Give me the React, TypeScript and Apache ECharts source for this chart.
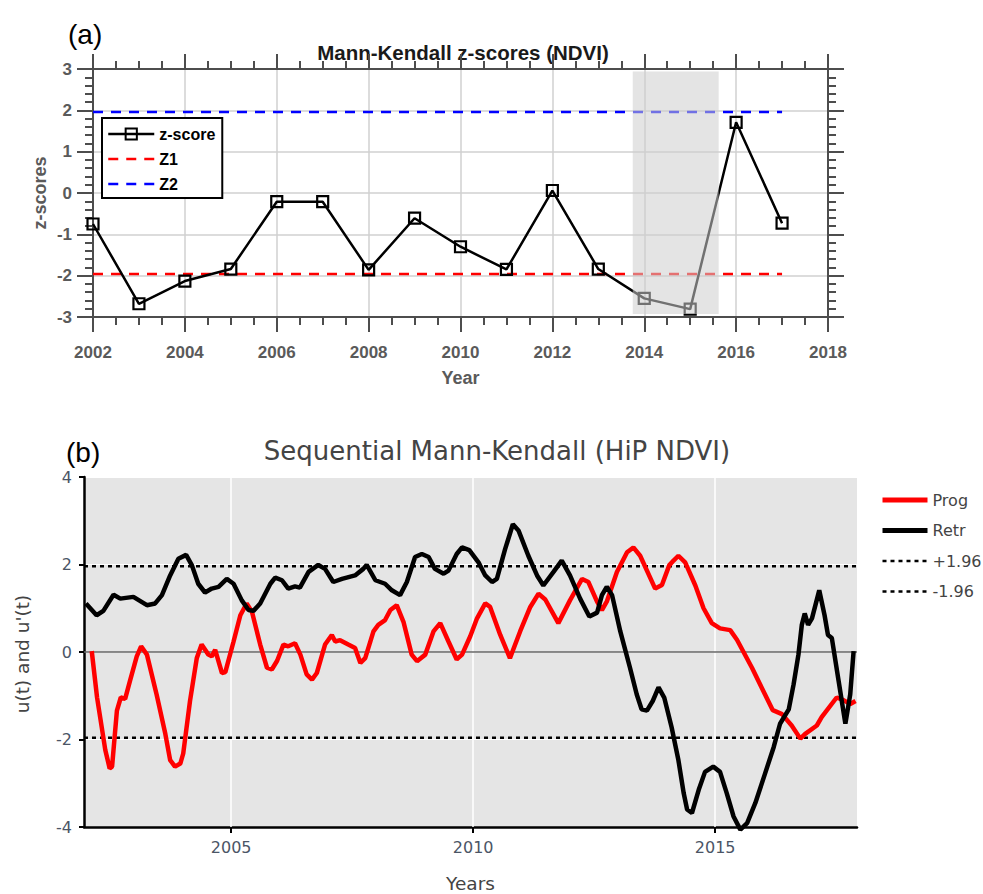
import React, { useEffect, useRef } from "react";
import * as echarts from "echarts";

// ---------- Panel (a): Mann-Kendall z-scores ----------
const years = [2002, 2003, 2004, 2005, 2006, 2007, 2008, 2009, 2010, 2011, 2012, 2013, 2014, 2015, 2016, 2017];
const zScores = [-0.75, -2.68, -2.13, -1.84, -0.21, -0.21, -1.86, -0.61, -1.3, -1.85, 0.06, -1.84, -2.55, -2.81, 1.71, -0.73];
const z1Value = -1.96;
const z2Value = 1.96;
const thresholdYearsA = [2002, 2017];
const shadeYears = [2013.75, 2015.62];
const shadeZ = [2.94, -2.93];
const xTicksA = { min: 2002, max: 2018, step: 2 };
const yTicksA = { min: -3, max: 3, step: 1 };

// ---------- Panel (b): Sequential Mann-Kendall ----------
const progT = [
  2002.12, 2002.23, 2002.4, 2002.49, 2002.54, 2002.64, 2002.72, 2002.81, 2002.91, 2003.05, 2003.14, 2003.26,
  2003.46, 2003.64, 2003.74, 2003.84, 2003.95, 2004.01, 2004.15, 2004.29, 2004.39, 2004.53, 2004.6, 2004.67,
  2004.81, 2004.88, 2005.05, 2005.19, 2005.32, 2005.43, 2005.6, 2005.74, 2005.84, 2005.95, 2006.08, 2006.18,
  2006.32, 2006.43, 2006.56, 2006.67, 2006.77, 2006.94, 2007.08, 2007.15, 2007.25, 2007.42, 2007.56, 2007.67,
  2007.77, 2007.94, 2008.04, 2008.18, 2008.29, 2008.42, 2008.56, 2008.73, 2008.84, 2009.01, 2009.18, 2009.32,
  2009.49, 2009.66, 2009.77, 2009.94, 2010.08, 2010.25, 2010.35, 2010.56, 2010.76, 2010.97, 2011.18, 2011.35,
  2011.49, 2011.76, 2012.0, 2012.25, 2012.38, 2012.56, 2012.66, 2012.76, 2012.97, 2013.18, 2013.31, 2013.45,
  2013.76, 2013.9, 2014.05, 2014.14, 2014.24, 2014.38, 2014.59, 2014.76, 2014.93, 2015.1, 2015.31, 2015.45,
  2015.76, 2016.03, 2016.19, 2016.38, 2016.58, 2016.76, 2016.86, 2017.1, 2017.2, 2017.51, 2017.65, 2017.79, 2017.9,
];
const progU = [
  0.02, -1.04, -2.24, -2.66, -2.62, -1.34, -1.04, -1.07, -0.66, -0.1, 0.13, -0.06,
  -0.97, -1.87, -2.47, -2.62, -2.55, -2.32, -1.12, -0.14, 0.17, -0.06, -0.1, 0.05,
  -0.48, -0.46, 0.24, 0.84, 1.11, 0.92, 0.17, -0.36, -0.4, -0.2, 0.17, 0.13,
  0.2, -0.06, -0.51, -0.63, -0.48, 0.17, 0.39, 0.24, 0.27, 0.17, 0.09, -0.25,
  -0.14, 0.47, 0.62, 0.73, 0.96, 1.07, 0.69, -0.06, -0.21, -0.06, 0.47, 0.66,
  0.24, -0.17, -0.06, 0.36, 0.77, 1.11, 1.03, 0.39, -0.14, 0.47, 1.03, 1.33,
  1.2, 0.66, 1.18, 1.67, 1.6, 1.15, 0.96, 1.15, 1.83, 2.28, 2.39, 2.2,
  1.45, 1.53, 1.98, 2.09, 2.2, 2.05, 1.52, 1.0, 0.66, 0.54, 0.5, 0.28,
  -0.36, -0.97, -1.33, -1.42, -1.68, -1.98, -1.87, -1.68, -1.49, -1.04, -1.1, -1.19, -1.12,
];
const retrT = [
  2002.0, 2002.22, 2002.36, 2002.57, 2002.71, 2002.98, 2003.26, 2003.43, 2003.57, 2003.74, 2003.91, 2004.07,
  2004.19, 2004.32, 2004.46, 2004.6, 2004.74, 2004.91, 2005.05, 2005.22, 2005.36, 2005.46, 2005.6, 2005.81,
  2005.91, 2006.05, 2006.18, 2006.32, 2006.42, 2006.6, 2006.8, 2006.94, 2007.11, 2007.29, 2007.56, 2007.73,
  2007.8, 2007.98, 2008.18, 2008.32, 2008.49, 2008.63, 2008.8, 2008.94, 2009.08, 2009.21, 2009.39, 2009.49,
  2009.66, 2009.77, 2009.92, 2010.11, 2010.25, 2010.39, 2010.49, 2010.66, 2010.82, 2010.94, 2011.14, 2011.32,
  2011.45, 2011.66, 2011.83, 2012.0, 2012.21, 2012.4, 2012.56, 2012.66, 2012.76, 2012.87, 2013.04, 2013.24,
  2013.38, 2013.48, 2013.59, 2013.71, 2013.83, 2013.95, 2014.1, 2014.24, 2014.35, 2014.42, 2014.52, 2014.66,
  2014.79, 2014.96, 2015.1, 2015.24, 2015.38, 2015.52, 2015.66, 2015.83, 2016.03, 2016.21, 2016.34, 2016.52,
  2016.62, 2016.72, 2016.79, 2016.85, 2016.92, 2017.0, 2017.15, 2017.26, 2017.33, 2017.41, 2017.55, 2017.69,
  2017.79, 2017.86,
];
const retrU = [
  1.11, 0.84, 0.94, 1.31, 1.22, 1.26, 1.07, 1.11, 1.3, 1.75, 2.13, 2.22,
  1.98, 1.56, 1.36, 1.45, 1.49, 1.67, 1.56, 1.18, 0.96, 0.94, 1.11, 1.56,
  1.7, 1.64, 1.45, 1.5, 1.47, 1.83, 1.99, 1.9, 1.6, 1.67, 1.75, 1.9,
  1.99, 1.64, 1.56, 1.41, 1.3, 1.6, 2.17, 2.24, 2.17, 1.9, 1.79, 1.86,
  2.24, 2.39, 2.33, 2.05, 1.75, 1.6, 1.67, 2.35, 2.92, 2.77, 2.2, 1.75,
  1.52, 1.83, 2.09, 1.75, 1.22, 0.81, 0.9, 1.3, 1.49, 1.3, 0.47, -0.36,
  -0.97, -1.31, -1.34, -1.12, -0.81, -1.05, -1.72, -2.47, -3.23, -3.6, -3.68, -3.15,
  -2.74, -2.62, -2.74, -3.23, -3.76, -4.06, -3.91, -3.45, -2.78, -2.17, -1.64, -1.31,
  -0.74, -0.06, 0.62, 0.88, 0.62, 0.77, 1.41, 0.84, 0.39, 0.32, -0.66, -1.64,
  -0.97, 0.02,
];
const critPlus = 1.96;
const critMinus = -1.96;
const xRangeB = [2001.96, 2017.93];
const yearTicksB = [2005, 2010, 2015];
const yTicksB = { min: -4, max: 4, step: 2 };

const zip = (xs: number[], ys: number[]) => xs.map((x, i) => [x, ys[i]]);
const plain = (v: number) => String(v);

const FRAME = "#4d4d4d";
const LABEL_A = "#5a5a5a";
const SLATE = "#4b5566";
const DARK = "#444";

export default function App() {
  const ref = useRef<HTMLDivElement>(null);

  useEffect(() => {
    if (!ref.current) return;
    const chart = echarts.init(ref.current, undefined, { renderer: "svg" });

    const frameAxisA = (extra: any) => ({
      gridIndex: 0,
      type: "value",
      axisLine: { show: true, onZero: false, lineStyle: { color: FRAME, width: 2 } },
      axisTick: { show: true, inside: false, length: 15, lineStyle: { color: FRAME, width: 2 } },
      ...extra,
    });

    const noSymbol = { opacity: 0 };

    const option: any = {
      animation: false,
      backgroundColor: "#ffffff",
      grid: [
        { left: 93, top: 69, width: 735, height: 248 },
        { left: 84, top: 477, width: 773, height: 354, show: true, backgroundColor: "#e5e5e5", borderWidth: 0 },
      ],
      graphic: [
        { type: "text", x: 68, y: 34, style: { text: "(a)", textVerticalAlign: "middle", font: '28px "Liberation Sans"', fill: "#000" } },
        { type: "text", x: 463, y: 52, style: { text: "Mann-Kendall z-scores (NDVI)", textAlign: "center", textVerticalAlign: "middle", font: 'bold 20.5px "Liberation Sans"', fill: "#1a1a1a" } },
        { type: "text", x: 40, y: 193, rotation: Math.PI / 2, style: { text: "z-scores", textAlign: "center", textVerticalAlign: "middle", font: 'bold 18px "Liberation Sans"', fill: LABEL_A } },
        { type: "text", x: 66, y: 452, style: { text: "(b)", textVerticalAlign: "middle", font: '28px "Liberation Sans"', fill: "#000" } },
        { type: "text", x: 497, y: 451, style: { text: "Sequential Mann-Kendall (HiP NDVI)", textAlign: "center", textVerticalAlign: "middle", font: '26px "DejaVu Sans"', fill: DARK } },
        { type: "text", x: 22, y: 654, rotation: Math.PI / 2, style: { text: "u(t) and u'(t)", textAlign: "center", textVerticalAlign: "middle", font: '18.5px "DejaVu Sans"', fill: DARK } },
      ],
      xAxis: [
        frameAxisA({
          position: "bottom",
          min: xTicksA.min,
          max: xTicksA.max,
          interval: xTicksA.step,
          minorTick: { show: true, splitNumber: 4, length: 8, lineStyle: { color: FRAME, width: 2 } },
          splitLine: { show: true, lineStyle: { color: "#d0d0d0", width: 1.5 } },
          axisLabel: { color: LABEL_A, fontWeight: "bold", fontSize: 17, fontFamily: "Liberation Sans", margin: 27, formatter: plain },
          name: "Year",
          nameLocation: "middle",
          nameGap: 52,
          nameTextStyle: { color: LABEL_A, fontWeight: "bold", fontSize: 18, fontFamily: "Liberation Sans" },
        }),
        frameAxisA({
          position: "top",
          min: xTicksA.min,
          max: xTicksA.max,
          interval: xTicksA.step,
          minorTick: { show: true, splitNumber: 4, length: 8, lineStyle: { color: FRAME, width: 2 } },
          splitLine: { show: false },
          axisLabel: { show: false },
        }),
        {
          gridIndex: 1,
          type: "value",
          min: xRangeB[0],
          max: xRangeB[1],
          axisLine: { show: true, onZero: false, lineStyle: { color: "#000", width: 2.5 } },
          axisTick: { show: true, customValues: yearTicksB, length: 6, lineStyle: { color: "#000", width: 2 } },
          axisLabel: { customValues: yearTicksB, color: SLATE, fontSize: 16, fontFamily: "DejaVu Sans", margin: 12, formatter: plain },
          splitLine: { show: false },
          name: "Years",
          nameLocation: "middle",
          nameGap: 47,
          nameTextStyle: { color: DARK, fontSize: 18.5, fontFamily: "DejaVu Sans" },
        },
      ],
      yAxis: [
        frameAxisA({
          position: "left",
          min: yTicksA.min,
          max: yTicksA.max,
          interval: yTicksA.step,
          axisTick: { show: true, inside: false, length: 16, lineStyle: { color: FRAME, width: 2 } },
          minorTick: { show: true, splitNumber: 5, length: 8, lineStyle: { color: FRAME, width: 2 } },
          splitLine: { show: true, lineStyle: { color: "#d0d0d0", width: 1.5 } },
          axisLabel: { color: LABEL_A, fontWeight: "bold", fontSize: 17, fontFamily: "Liberation Sans", margin: 21 },
        }),
        frameAxisA({
          position: "right",
          min: yTicksA.min,
          max: yTicksA.max,
          interval: yTicksA.step,
          axisTick: { show: true, inside: false, length: 16, lineStyle: { color: FRAME, width: 2 } },
          minorTick: { show: true, splitNumber: 5, length: 8, lineStyle: { color: FRAME, width: 2 } },
          splitLine: { show: false },
          axisLabel: { show: false },
        }),
        {
          gridIndex: 1,
          type: "value",
          min: yTicksB.min,
          max: yTicksB.max,
          interval: yTicksB.step,
          axisLine: { show: true, onZero: false, lineStyle: { color: "#000", width: 2.5 } },
          axisTick: { show: true, length: 5, lineStyle: { color: "#000", width: 2 } },
          axisLabel: { color: SLATE, fontSize: 16, fontFamily: "DejaVu Sans", margin: 12 },
          splitLine: { show: true, lineStyle: { color: "#ffffff", width: 1.2 } },
        },
      ],
      legend: [
        {
          data: [
            { name: "z-score", lineStyle: { width: 2.5 } },
            { name: "Z1", itemStyle: noSymbol, lineStyle: { width: 2.5 } },
            { name: "Z2", itemStyle: noSymbol, lineStyle: { width: 2.5 } },
          ],
          orient: "vertical",
          left: 102,
          top: 118,
          padding: [8, 7, 6, 5],
          itemGap: 9,
          itemWidth: 46,
          itemHeight: 14,
          backgroundColor: "#ffffff",
          borderColor: "#000",
          borderWidth: 2,
          borderRadius: 0,
          selectedMode: false,
          textStyle: { color: "#000", fontWeight: "bold", fontSize: 16, fontFamily: "Liberation Sans" },
        },
        {
          data: [
            { name: "Prog", itemStyle: noSymbol, lineStyle: { width: 5 } },
            { name: "Retr", itemStyle: noSymbol, lineStyle: { width: 5 } },
            { name: "+1.96", itemStyle: noSymbol, lineStyle: { width: 2.7 } },
            { name: "-1.96", itemStyle: noSymbol, lineStyle: { width: 2.7 } },
          ],
          orient: "vertical",
          left: 880,
          top: 492,
          padding: 0,
          itemGap: 14.5,
          itemWidth: 45,
          itemHeight: 14,
          selectedMode: false,
          textStyle: { color: DARK, fontSize: 16, fontFamily: "DejaVu Sans" },
        },
      ],
      series: [
        {
          name: "Z1",
          type: "line",
          xAxisIndex: 0,
          yAxisIndex: 0,
          data: thresholdYearsA.map((y) => [y, z1Value]),
          symbol: "none",
          lineStyle: { color: "#ff0000", width: 2.5, type: [10, 8] },
          itemStyle: { color: "#ff0000" },
          z: 2,
        },
        {
          name: "Z2",
          type: "line",
          xAxisIndex: 0,
          yAxisIndex: 0,
          data: thresholdYearsA.map((y) => [y, z2Value]),
          symbol: "none",
          lineStyle: { color: "#0000ff", width: 2.5, type: [10, 8] },
          itemStyle: { color: "#0000ff" },
          z: 2,
        },
        {
          name: "z-score",
          type: "line",
          xAxisIndex: 0,
          yAxisIndex: 0,
          data: zip(years, zScores),
          symbol: "rect",
          symbolSize: 11,
          showAllSymbol: true,
          lineStyle: { color: "#000", width: 2.5 },
          itemStyle: { color: "rgba(255,255,255,0)", borderColor: "#000", borderWidth: 2.2 },
          z: 3,
        },
        {
          name: "shade",
          type: "custom",
          xAxisIndex: 0,
          yAxisIndex: 0,
          silent: true,
          z: 10,
          data: [[shadeYears[0], shadeYears[1], shadeZ[0], shadeZ[1]]],
          encode: { x: [0, 1], y: [2, 3] },
          renderItem: (_p: any, api: any) => {
            const p1 = api.coord([api.value(0), api.value(2)]);
            const p2 = api.coord([api.value(1), api.value(3)]);
            return {
              type: "rect",
              shape: { x: p1[0], y: p1[1], width: p2[0] - p1[0], height: p2[1] - p1[1] },
              style: { fill: "rgba(205,205,205,0.55)" },
            };
          },
        },
        {
          name: "+1.96",
          type: "line",
          xAxisIndex: 2,
          yAxisIndex: 2,
          data: xRangeB.map((x) => [x, critPlus]),
          symbol: "none",
          lineStyle: { color: "#000", width: 2.7, type: [4, 4] },
          itemStyle: { color: "#000" },
          z: 2,
          markLine: {
            silent: true,
            symbol: "none",
            z: 1,
            label: { show: false },
            data: [
              ...yearTicksB.map((x) => ({ xAxis: x, lineStyle: { color: "#ffffff", width: 1.5, type: "solid" } })),
              { yAxis: 0, lineStyle: { color: "#666666", width: 1.5, type: "solid" } },
            ],
          },
        },
        {
          name: "-1.96",
          type: "line",
          xAxisIndex: 2,
          yAxisIndex: 2,
          data: xRangeB.map((x) => [x, critMinus]),
          symbol: "none",
          lineStyle: { color: "#000", width: 2.7, type: [4, 4] },
          itemStyle: { color: "#000" },
          z: 2,
        },
        {
          name: "Prog",
          type: "line",
          xAxisIndex: 2,
          yAxisIndex: 2,
          data: zip(progT, progU),
          symbol: "none",
          lineStyle: { color: "#ff0000", width: 4.5 },
          itemStyle: { color: "#ff0000" },
          z: 3,
        },
        {
          name: "Retr",
          type: "line",
          xAxisIndex: 2,
          yAxisIndex: 2,
          data: zip(retrT, retrU),
          symbol: "none",
          clip: false,
          lineStyle: { color: "#000", width: 4.5 },
          itemStyle: { color: "#000" },
          z: 4,
        },
      ],
    };

    chart.setOption(option);
    return () => chart.dispose();
  }, []);

  return (
    <div
      ref={ref}
      style={{ position: "fixed", left: 0, top: 0, width: 983, height: 894, background: "#fff" }}
    />
  );
}
